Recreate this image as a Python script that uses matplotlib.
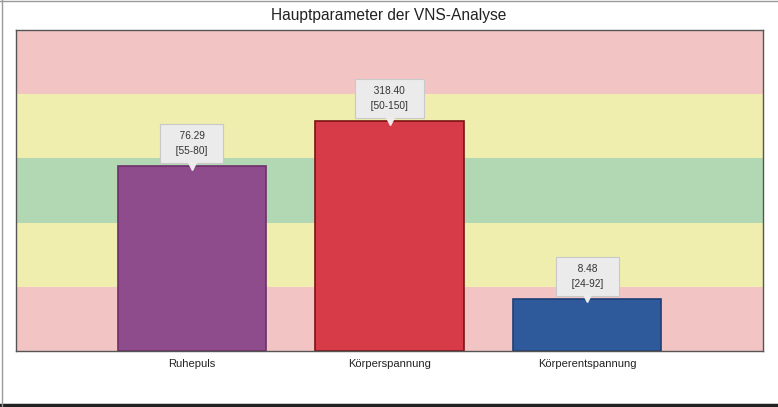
import matplotlib.pyplot as plt
from matplotlib.lines import Line2D
import numpy as np

plt.rcParams['font.family'] = ['Liberation Sans', 'DejaVu Sans']

# data
categories = ['Ruhepuls', 'Körperspannung', 'Körperentspannung']
values = ['76.29', '318.40', '8.48']
ranges = ['[55-80]', '[50-150]', '[24-92]']
# bar heights on the 0-5 zone scale
levels = [2.88, 3.58, 0.81]
bar_colors = ['#8E4C8C', '#D63B47', '#2E5A9C']
edge_colors = ['#6E2F6C', '#7A1414', '#1F3F75']

# zones (bottom to top)
zone_colors = ['#F2C5C4', '#EFEEAE', '#B2D8B3', '#EFEEAE', '#F2C5C4']

fig = plt.figure(figsize=(7.78, 4.07), dpi=100)
ax = fig.add_axes([0.0206, 0.1376, 0.9601, 0.7884])

for k, c in enumerate(zone_colors):
    ax.axhspan(k, k + 1, color=c, zorder=0, lw=0)

x = np.arange(len(categories))
ax.bar(x, levels, width=0.75, color=bar_colors, edgecolor=edge_colors,
       linewidth=1.2, zorder=2)

fs = 7.3
pad = 0.7
for i in range(len(categories)):
    ax.annotate('   ' + values[i] + '   \n   ' + ranges[i] + '   ', xy=(x[i], levels[i]),
                xytext=(0, fs * pad + 2.2), textcoords='offset points',
                ha='center', va='bottom', fontsize=fs, color='#333333',
                linespacing=1.6,
                bbox=dict(boxstyle='square,pad=%s' % pad, fc='#EBEBEB', ec='#C9C9C9', lw=0.8),
                zorder=4)
    ax.plot(x[i], levels[i] + 0.01, marker='v', ms=6, color='#EDEDED',
            mec='#EDEDED', zorder=5, clip_on=False)

ax.set_xlim(-0.89, 2.89)
ax.set_ylim(0, 5)
ax.set_yticks([])
ax.set_xticks(x)
ax.set_xticklabels(categories, fontsize=8, color='#222222')
ax.tick_params(axis='x', length=0, pad=6)
for s in ax.spines.values():
    s.set_color('#555555')
    s.set_linewidth(1.0)

fig.text(0.5, 0.963, 'Hauptparameter der VNS-Analyse', ha='center', va='center',
         fontsize=11.2, color='#222222')

# screenshot frame
fig.add_artist(Line2D([0, 1], [0.004, 0.004], color='#222222', lw=2.5))
fig.add_artist(Line2D([0.002, 0.002], [0, 1], color='#999999', lw=1))
fig.add_artist(Line2D([0, 1], [0.998, 0.998], color='#999999', lw=1))

fig.savefig('out.png', dpi=100)
